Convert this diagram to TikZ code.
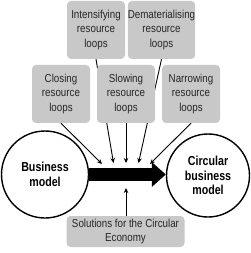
\documentclass[tikz,border=0pt]{standalone}
\usepackage{fontspec}
\newfontfamily\boxfont[FakeStretch=0.85]{Liberation Sans}
\newfontfamily\circfont[FakeStretch=0.82]{Liberation Sans}
\usetikzlibrary{arrows.meta,backgrounds}
\definecolor{boxgray}{HTML}{C8C8C8}
\definecolor{txt}{HTML}{262626}
\tikzset{
  loopbox/.style={fill=boxgray, rounded corners=4pt, minimum width=58pt, minimum height=58pt,
    inner sep=0pt, align=center, text=txt, font=\boxfont\fontsize{11.5}{14.5}\selectfont},
  widebox/.style={loopbox, minimum width=118pt, minimum height=31pt},
  bmcircle/.style={circle, draw, line width=1.4pt, inner sep=0pt, align=center,
    font=\circfont\bfseries\fontsize{13}{14.5}\selectfont},
  smallarrow/.style={line width=0.9pt, -{Stealth[length=5pt,width=4.5pt]}},
  bigarrow/.style={line width=13pt, -{Triangle[length=14pt,width=24pt]}}
}
\begin{document}
\begin{tikzpicture}[x=1pt,y=-1pt]
\useasboundingbox (0,0) rectangle (250,253);
% boxes
\node[loopbox] (intens) at (96,30) {Intensifying\\resource\\loops};
\node[loopbox] (demat) at (161.5,30) {Dematerialising\\resource\\loops};
\node[loopbox] (closing) at (61,94) {Closing\\resource\\loops};
\node[loopbox] (slowing) at (126,94) {Slowing\\resource\\loops};
\node[loopbox] (narrowing) at (191,94) {Narrowing\\resource\\loops};
\node[widebox] (solutions) at (125.5,231.5) {Solutions for the Circular\\Economy};
% circles
\node[bmcircle, minimum size=87pt] (bm) at (45,174.5) {Business\\model};
\node[bmcircle, minimum size=83pt] (cbm) at (208,175.5) {Circular\\business\\model};
% targets
\coordinate (t1) at (102,164);
\coordinate (t2) at (113.5,163);
\coordinate (t3) at (126,163);
\coordinate (t4) at (138.5,163);
\coordinate (t5) at (150,164);
\coordinate (t6) at (126,188);
\begin{scope}[on background layer]
\draw[smallarrow] (closing.south) -- (t1);
\draw[smallarrow] (intens.south) -- (t2);
\draw[smallarrow] (slowing.south) -- (t3);
\draw[smallarrow] (demat.south) -- (t4);
\draw[smallarrow] (narrowing.south) -- (t5);
\end{scope}
\draw[smallarrow] (solutions.north -| t6) -- (t6);
\draw[bigarrow] (bm.east |- 0,174.5) -- (cbm.west |- 0,174.5);
\end{tikzpicture}
\end{document}
